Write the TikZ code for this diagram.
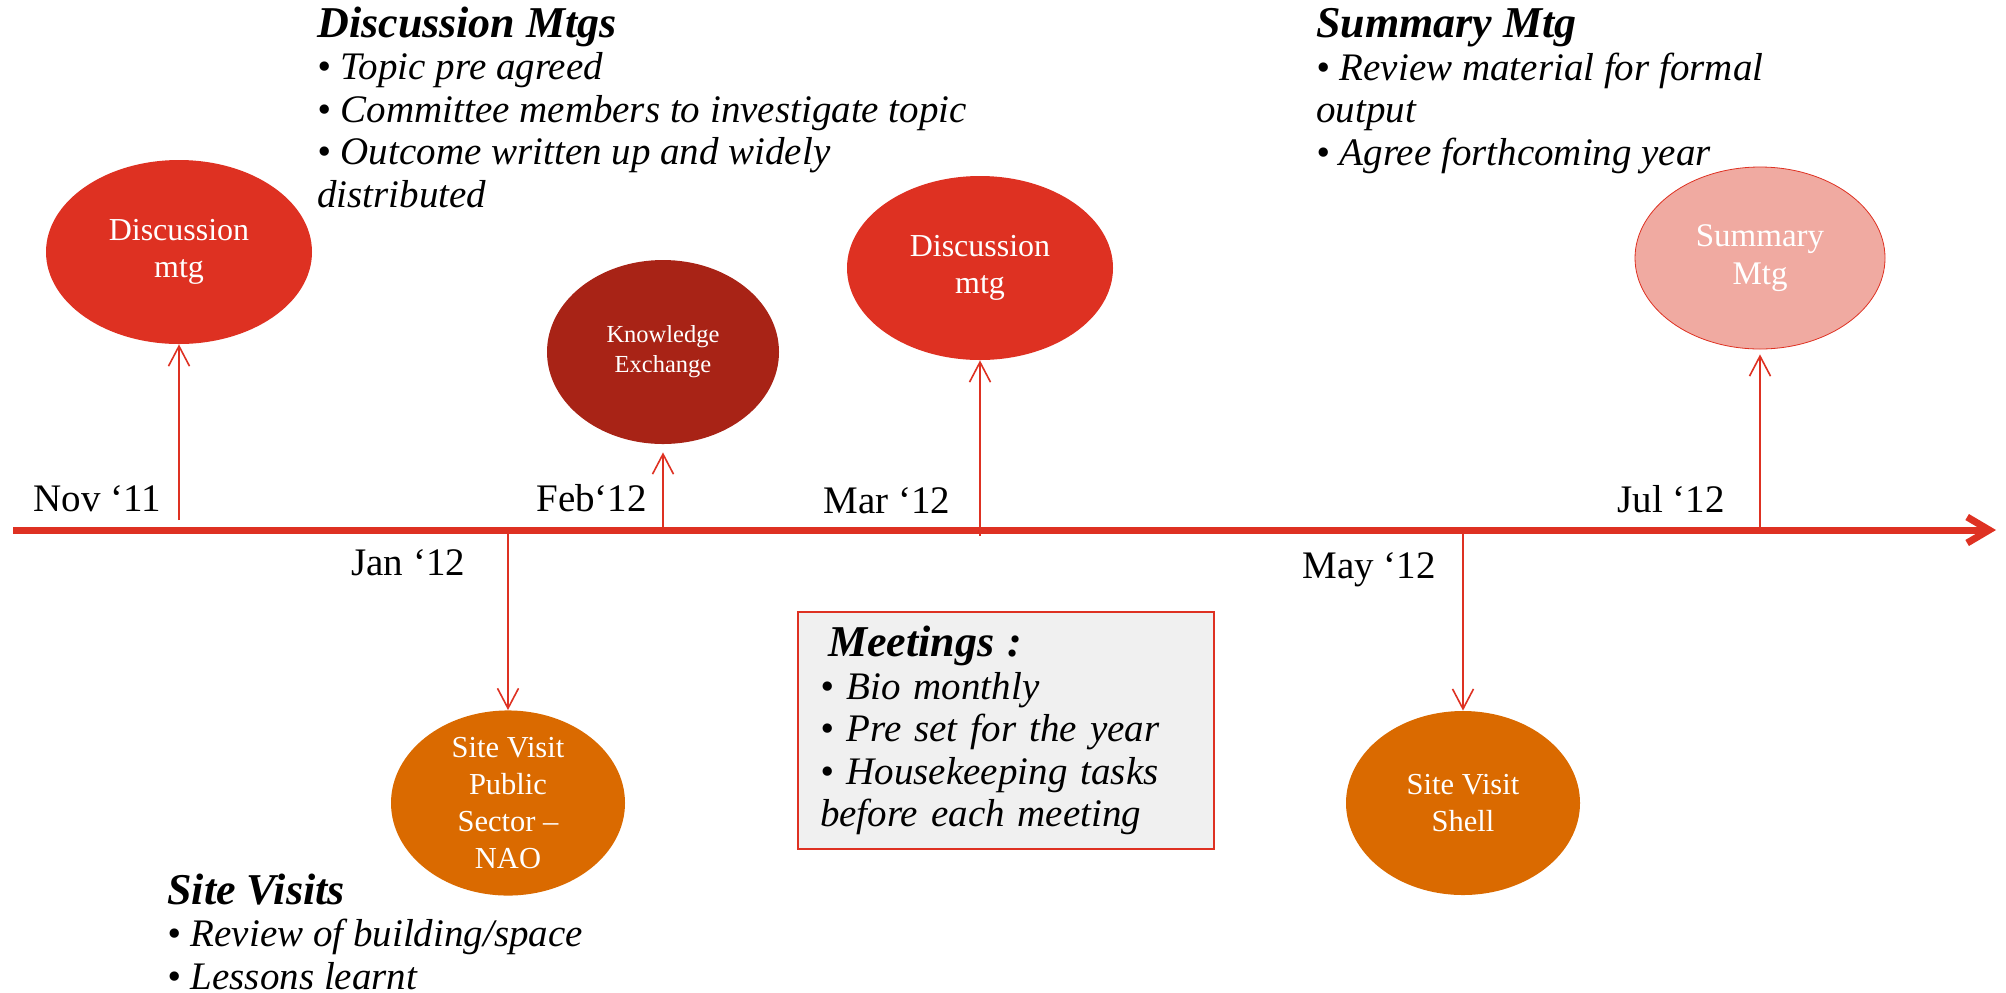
\documentclass[tikz,border=0pt]{standalone}
\usepackage{fontspec}
\setmainfont{Liberation Serif}
\usepackage{xcolor}
\usepackage{tikz}
\usetikzlibrary{shapes.geometric, arrows.meta}

\definecolor{tlred}{RGB}{222,49,34}
\definecolor{kered}{RGB}{168,35,22}
\definecolor{svorange}{RGB}{218,106,0}
\definecolor{smpink}{RGB}{240,170,161}
\definecolor{boxgrey}{RGB}{240,240,240}

\newcommand{\notehead}[1]{{\bfseries\fontsize{22}{21.25}\selectfont #1}}

\tikzstyle{mtg} = [ellipse,
minimum width=133pt,
minimum height=92pt,
inner sep=0pt,
align=center,
text=white,
fill=tlred,
font=\fontsize{16}{18.5}\selectfont]
\tikzstyle{kex} = [ellipse,
minimum width=116pt,
minimum height=92pt,
inner sep=0pt,
align=center,
text=white,
fill=kered,
font=\fontsize{12.25}{15}\selectfont]
\tikzstyle{summ} = [ellipse,
minimum width=125pt,
minimum height=91pt,
inner sep=0pt,
align=center,
text=white,
fill=smpink,
draw=tlred,
line width=0.4pt,
font=\fontsize{16.5}{18.75}\selectfont]
\tikzstyle{visit} = [ellipse,
minimum width=117pt,
minimum height=92pt,
inner sep=0pt,
align=center,
text=white,
fill=svorange,
font=\fontsize{15.25}{18.4}\selectfont]
\tikzstyle{datelbl} = [anchor=base west,
inner sep=0pt,
font=\fontsize{19.5}{23}\selectfont]
% anchored at the baseline of the last line
\tikzstyle{notes} = [anchor=base west,
inner sep=0pt,
align=left,
font=\fontsize{19.5}{21.25}\selectfont\itshape]
\tikzstyle{meetbox} = [rectangle,
anchor=north west,
draw=tlred,
line width=1pt,
fill=boxgrey,
text width=186pt,
minimum height=118.5pt,
inner xsep=11pt,
inner ysep=4pt,
align=left,
font=\fontsize{19.5}{21.25}\selectfont\itshape]
\tikzstyle{timeline} = [tlred, line width=3.5pt, -{Straight Barb[length=11pt,width=13pt]}]
\tikzstyle{link} = [tlred, line width=0.8pt, -{Straight Barb[length=10pt,width=10.5pt]}]

\begin{document}
\begin{tikzpicture}[x=0.5pt, y=-0.5pt]

    \useasboundingbox (0,0) rectangle (2006,992);

    % time axis
    \coordinate (t0) at (13,530);
    \coordinate (t1) at (1996,530);
    \draw [timeline] (t0) -- (t1);

    \node (dm1) [mtg] at (179,252) {Discussion\\mtg};
    \node (ke) [kex] at (663,352) {Knowledge\\Exchange};
    \node (dm2) [mtg] at (980,268) {Discussion\\mtg};
    \node (sm) [summ] at (1760,258) {Summary\\Mtg};
    \node (sv1) [visit] at (508,803) {Site Visit\\Public\\Sector –\\NAO};
    \node (sv2) [visit] at (1463,803) {Site Visit\\Shell};

    \coordinate (nov) at (179,520);
    \coordinate (jan) at (508,533);
    \coordinate (feb) at (663,528);
    \coordinate (mar) at (980,536);
    \coordinate (may) at (1463,533);
    \coordinate (jul) at (1760,528);

    \draw [link] (nov) -- (dm1);
    \draw [link] (jan) -- (sv1);
    \draw [link, shorten >=4pt] (feb) -- (ke);
    \draw [link] (mar) -- (dm2);
    \draw [link] (may) -- (sv2);
    \draw [link, shorten >=2.5pt] (jul) -- (sm);

    \node (lnov) [datelbl] at (33,511) {Nov ‘11};
    \node (lfeb) [datelbl] at (536,511) {Feb‘12};
    \node (lmar) [datelbl] at (823,513) {Mar ‘12};
    \node (ljul) [datelbl] at (1617,512) {Jul ‘12};
    \node (ljan) [datelbl] at (351,575) {Jan ‘12};
    \node (lmay) [datelbl] at (1302,578) {May ‘12};

    \node (ndisc) [notes] at (317,207) {\notehead{Discussion Mtgs}\\• Topic pre agreed\\• Committee members to investigate topic\\• Outcome written up and widely\\distributed};
    \node (nsumm) [notes] at (1316,165) {\notehead{Summary Mtg}\\• Review material for formal\\output\\• Agree forthcoming year};
    \node (nsite) [notes] at (167,989) {\notehead{Site Visits}\\• Review of building/space\\• Lessons learnt};
    \node (nmeet) [meetbox] at (797,611) {\hspace*{4pt}\notehead{Meetings :}\\• Bio monthly\\• Pre set for the year\\• Housekeeping tasks\\before each meeting};

\end{tikzpicture}
\end{document}
